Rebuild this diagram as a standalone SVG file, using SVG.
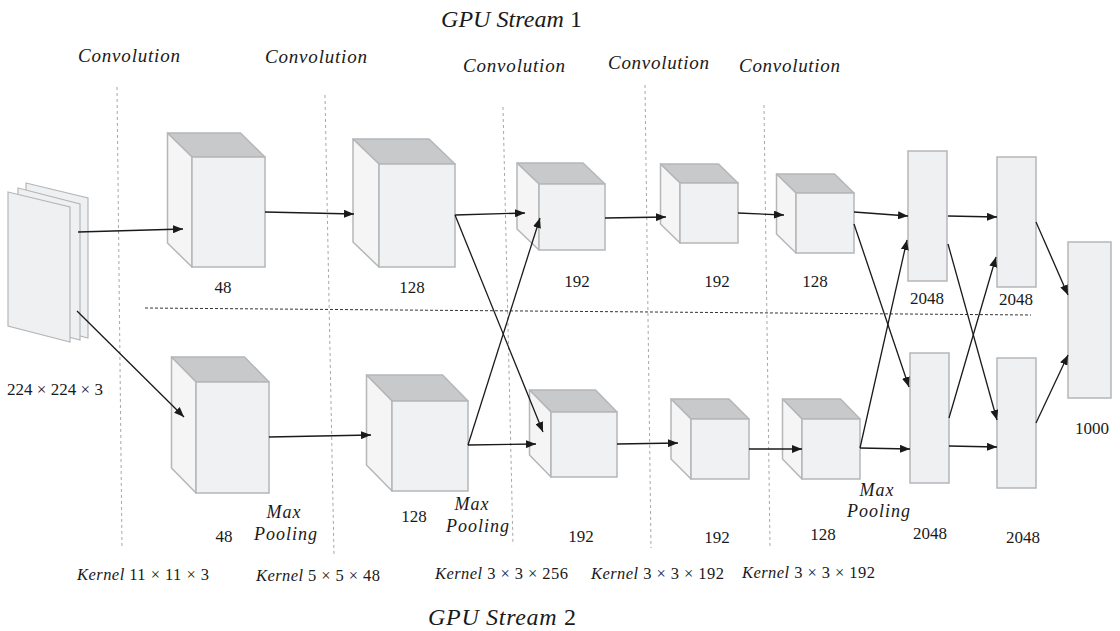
<svg xmlns="http://www.w3.org/2000/svg" width="1120" height="631" viewBox="0 0 1120 631">
<style>
.top{fill:#c8c9cb;stroke:#b5b6b8;stroke-width:1.5;stroke-linejoin:round}
.side{fill:#f5f5f6;stroke:#b5b6b8;stroke-width:1.5;stroke-linejoin:round}
.front{fill:#f0f1f2;stroke:#b5b6b8;stroke-width:1.5}
.sheet{fill:#eff0f2;stroke:#b5b6b8;stroke-width:1.2}
.fc{fill:#eff0f2;stroke:#b5b6b8;stroke-width:1.5}
.arr{stroke:#1a1a1a;stroke-width:1.3;fill:none;marker-end:url(#ah)}
.vdiv{stroke:#a8a8a8;stroke-width:1;stroke-dasharray:3,3;fill:none}
.hdiv{stroke:#333;stroke-width:1;stroke-dasharray:3,2;fill:none}
text{font-family:"Liberation Serif","DejaVu Serif",serif;fill:#1a1a1a}
.num{font-size:17px;text-anchor:middle}
.it{font-style:italic}
.conv{font-size:19px;font-style:italic}
.ker{font-size:16.5px}
.title{font-size:24px;font-style:italic}
.mp{font-size:18px;font-style:italic;text-anchor:middle;letter-spacing:1px}
</style>
<defs>
<marker id="ah" markerUnits="userSpaceOnUse" markerWidth="11" markerHeight="8" refX="10" refY="4" orient="auto">
<path d="M0,0 L10,4 L0,8 z" fill="#1a1a1a"/>
</marker>
</defs>

<g id="dividers">
<line class="vdiv" x1="117" y1="87" x2="122" y2="548"/>
<line class="vdiv" x1="325" y1="95" x2="334" y2="556"/>
<line class="vdiv" x1="503" y1="107" x2="513" y2="545"/>
<line class="vdiv" x1="645" y1="85" x2="651" y2="548"/>
<line class="vdiv" x1="764" y1="105" x2="770" y2="546"/>
<line class="hdiv" x1="145" y1="308" x2="1031" y2="315"/>
</g>

<g id="input">
<polygon class="sheet" points="26,183 88,198 88,338 26,322"/>
<polygon class="sheet" points="18,188 80,204 80,340 18,324"/>
<polygon class="sheet" points="8,192 70,207 70,342 8,326"/>
<text class="num" x="55" y="395" textLength="96">224 × 224 × 3</text>
</g>

<g id="t1">
<polygon class="top" points="167.5,133 240.5,133 265,157 192,157"/>
<polygon class="side" points="167.5,133 192,157 192,267 167.5,243"/>
<rect class="front" x="192" y="157" width="73" height="110"/>
<text class="num" x="223" y="293">48</text>
</g>
<g id="t2">
<polygon class="top" points="353,139 429,139 455,164 379,164"/>
<polygon class="side" points="353,139 379,164 379,267 353,242"/>
<rect class="front" x="379" y="164" width="76" height="103"/>
<text class="num" x="412" y="293">128</text>
</g>
<g id="t3">
<polygon class="top" points="517,163 583,163 605,184 539,184"/>
<polygon class="side" points="517,163 539,184 539,250 517,229"/>
<rect class="front" x="539" y="184" width="66" height="66"/>
<text class="num" x="577" y="287">192</text>
</g>
<g id="t4">
<polygon class="top" points="660.5,164 718.5,164 738,183 680,183"/>
<polygon class="side" points="660.5,164 680,183 680,243 660.5,224"/>
<rect class="front" x="680" y="183" width="58" height="60"/>
<text class="num" x="717" y="287">192</text>
</g>
<g id="t5">
<polygon class="top" points="776.5,174 834.5,174 854,193 796,193"/>
<polygon class="side" points="776.5,174 796,193 796,253 776.5,234"/>
<rect class="front" x="796" y="193" width="58" height="60"/>
<text class="num" x="815" y="287">128</text>
</g>

<g id="b1">
<polygon class="top" points="171.5,357 244.5,357 269,382 196,382"/>
<polygon class="side" points="171.5,357 196,382 196,493 171.5,468"/>
<rect class="front" x="196" y="382" width="73" height="111"/>
<text class="num" x="224" y="542">48</text>
</g>
<g id="b2">
<polygon class="top" points="366.5,375 442.5,375 468,401 392,401"/>
<polygon class="side" points="366.5,375 392,401 392,491 366.5,465"/>
<rect class="front" x="392" y="401" width="76" height="90"/>
<text class="num" x="414" y="522">128</text>
</g>
<g id="b3">
<polygon class="top" points="529.5,390 595.5,390 617,412 551,412"/>
<polygon class="side" points="529.5,390 551,412 551,477 529.5,455"/>
<rect class="front" x="551" y="412" width="66" height="65"/>
<text class="num" x="581" y="542">192</text>
</g>
<g id="b4">
<polygon class="top" points="671,399 729,399 749,419 691,419"/>
<polygon class="side" points="671,399 691,419 691,479 671,459"/>
<rect class="front" x="691" y="419" width="58" height="60"/>
<text class="num" x="717" y="543">192</text>
</g>
<g id="b5">
<polygon class="top" points="782.5,399 840.5,399 860,419 802,419"/>
<polygon class="side" points="782.5,399 802,419 802,479 782.5,459"/>
<rect class="front" x="802" y="419" width="58" height="60"/>
<text class="num" x="823" y="540">128</text>
</g>

<g id="fc1a">
<rect class="fc" x="908" y="151" width="39" height="130"/>
<text class="num" x="927" y="304">2048</text>
</g>
<g id="fc2a">
<rect class="fc" x="997" y="157" width="39" height="130"/>
<text class="num" x="1016" y="305">2048</text>
</g>
<g id="fc1b">
<rect class="fc" x="910" y="353" width="39" height="130"/>
<text class="num" x="930" y="539">2048</text>
</g>
<g id="fc2b">
<rect class="fc" x="997" y="358" width="39" height="130"/>
<text class="num" x="1023" y="543">2048</text>
</g>
<g id="out">
<rect class="fc" x="1068" y="242" width="43" height="156"/>
<text class="num" x="1092" y="434">1000</text>
</g>

<g id="connectors">
<line class="arr" x1="78" y1="232" x2="183" y2="229"/>
<line class="arr" x1="77" y1="311" x2="184" y2="417"/>
<line class="arr" x1="265" y1="212" x2="354" y2="214"/>
<line class="arr" x1="269" y1="437" x2="371" y2="435"/>
<line class="arr" x1="455" y1="215" x2="525" y2="213"/>
<line class="arr" x1="455" y1="215" x2="543" y2="432"/>
<line class="arr" x1="468" y1="445" x2="536" y2="444"/>
<line class="arr" x1="468" y1="445" x2="540" y2="218"/>
<line class="arr" x1="605" y1="218" x2="666" y2="217"/>
<line class="arr" x1="617" y1="444" x2="678" y2="443"/>
<line class="arr" x1="738" y1="213" x2="784" y2="215"/>
<line class="arr" x1="749" y1="449" x2="802" y2="449"/>
<line class="arr" x1="854" y1="212" x2="908" y2="216"/>
<line class="arr" x1="854" y1="224" x2="909" y2="387"/>
<line class="arr" x1="860" y1="448" x2="907" y2="240"/>
<line class="arr" x1="860" y1="448" x2="910" y2="449"/>
<line class="arr" x1="948" y1="216" x2="997" y2="217"/>
<line class="arr" x1="948" y1="244" x2="997" y2="420"/>
<line class="arr" x1="949" y1="418" x2="996" y2="257"/>
<line class="arr" x1="949" y1="446" x2="997" y2="447"/>
<line class="arr" x1="1036" y1="222" x2="1068" y2="295"/>
<line class="arr" x1="1036" y1="423" x2="1068" y2="355"/>
</g>

<g id="labels">
<text class="title" x="441" y="27" textLength="141">GPU Stream <tspan font-style="normal">1</tspan></text>
<text class="title" x="428" y="625" textLength="148">GPU Stream <tspan font-style="normal">2</tspan></text>
<text class="conv" x="78" y="62" textLength="102">Convolution</text>
<text class="conv" x="265" y="63" textLength="102">Convolution</text>
<text class="conv" x="463" y="72" textLength="102">Convolution</text>
<text class="conv" x="608" y="69" textLength="101">Convolution</text>
<text class="conv" x="739" y="72" textLength="101">Convolution</text>
<text class="mp" x="284" y="518">Max</text>
<text class="mp" x="286" y="540">Pooling</text>
<text class="mp" x="472" y="510">Max</text>
<text class="mp" x="478" y="532">Pooling</text>
<text class="mp" x="877" y="496">Max</text>
<text class="mp" x="879" y="517">Pooling</text>
<text class="ker" x="77" y="580" textLength="132"><tspan class="it">Kernel</tspan> 11 × 11 × 3</text>
<text class="ker" x="256" y="581" textLength="124"><tspan class="it">Kernel</tspan> 5 × 5 × 48</text>
<text class="ker" x="435" y="579" textLength="133"><tspan class="it">Kernel</tspan> 3 × 3 × 256</text>
<text class="ker" x="591" y="579" textLength="133"><tspan class="it">Kernel</tspan> 3 × 3 × 192</text>
<text class="ker" x="742" y="578" textLength="133"><tspan class="it">Kernel</tspan> 3 × 3 × 192</text>
</g>
</svg>
